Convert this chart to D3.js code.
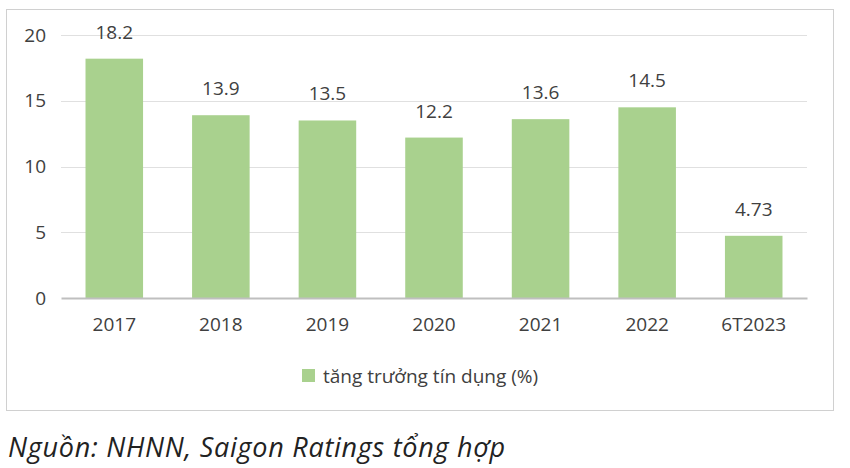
<!DOCTYPE html>
<html>
<head>
<meta charset="utf-8">
<script src="https://cdn.jsdelivr.net/npm/d3@7"></script>
<style>
  body { margin: 0; background: #fff; }
  text { font-family: "Open Sans", "Noto Sans", sans-serif; }
</style>
</head>
<body>
<script>
// chart data
var categories = ["2017", "2018", "2019", "2020", "2021", "2022", "6T2023"];
var values = [18.2, 13.9, 13.5, 12.2, 13.6, 14.5, 4.73];
var valueLabels = ["18.2", "13.9", "13.5", "12.2", "13.6", "14.5", "4.73"];
var yTicks = [0, 5, 10, 15, 20];
var seriesName = "tăng trưởng tín dụng (%)";
var source = "Nguồn: NHNN, Saigon Ratings tổng hợp";

var svgWidth = 850;
var svgHeight = 468;

// plot area inside the framed box
var margin = { top: 35, right: 43, bottom: 170, left: 61 };
var chartWidth = svgWidth - margin.left - margin.right;
var chartHeight = svgHeight - margin.top - margin.bottom;

var svg = d3.select("body")
  .append("svg")
  .attr("width", svgWidth)
  .attr("height", svgHeight);

// outer frame
svg.append("rect")
  .attr("x", 6.5)
  .attr("y", 9.5)
  .attr("width", 827)
  .attr("height", 401)
  .attr("fill", "#fff")
  .attr("stroke", "#d0d0d0")
  .attr("stroke-width", 1);

var chartGroup = svg.append("g")
  .attr("transform", `translate(${margin.left}, ${margin.top})`);

var xScale = d3.scaleBand()
  .domain(categories)
  .range([0, chartWidth])
  .paddingInner(0.46)
  .paddingOuter(0.23);

var yScale = d3.scaleLinear()
  .domain([0, 20])
  .range([chartHeight, 0]);

// gridlines
chartGroup.append("g")
  .selectAll("line")
  .data(yTicks.filter(d => d > 0))
  .enter()
  .append("line")
  .attr("x1", 0)
  .attr("x2", chartWidth)
  .attr("y1", d => Math.round(yScale(d)) + 0.5)
  .attr("y2", d => Math.round(yScale(d)) + 0.5)
  .attr("stroke", "#e0e0e0")
  .attr("stroke-width", 1);

// y axis labels
var leftAxis = d3.axisLeft(yScale).tickValues(yTicks).tickSize(0).tickPadding(15);
var yAxis = chartGroup.append("g").call(leftAxis);
yAxis.select(".domain").remove();
yAxis.selectAll("text")
  .attr("fill", "#404040")
  .style("font-size", "19px");

// bars
chartGroup.selectAll(".bar")
  .data(values)
  .enter()
  .append("rect")
  .attr("class", "bar")
  .attr("x", (d, i) => xScale(categories[i]))
  .attr("y", d => yScale(d))
  .attr("width", xScale.bandwidth())
  .attr("height", d => chartHeight - yScale(d))
  .attr("fill", "#a9d18e");

// value labels
chartGroup.selectAll(".val")
  .data(values)
  .enter()
  .append("text")
  .attr("class", "val")
  .attr("x", (d, i) => xScale(categories[i]) + xScale.bandwidth() / 2)
  .attr("y", d => yScale(d) - 20)
  .attr("text-anchor", "middle")
  .attr("fill", "#404040")
  .style("font-size", "19px")
  .text((d, i) => valueLabels[i]);

// x axis
var bottomAxis = d3.axisBottom(xScale).tickSize(0).tickPadding(20);
var xAxis = chartGroup.append("g")
  .attr("transform", `translate(0, ${chartHeight})`)
  .call(bottomAxis);
xAxis.select(".domain")
  .attr("stroke", "#bfbfbf")
  .attr("stroke-width", 2);
xAxis.selectAll("text")
  .attr("fill", "#404040")
  .style("font-size", "19px");

// legend
svg.append("rect")
  .attr("x", 302)
  .attr("y", 369)
  .attr("width", 13)
  .attr("height", 13)
  .attr("fill", "#a9d18e");
svg.append("text")
  .attr("x", 323)
  .attr("y", 383)
  .attr("fill", "#404040")
  .style("font-size", "19px")
  .text(seriesName);

// source note
svg.append("text")
  .attr("x", 8)
  .attr("y", 457)
  .attr("fill", "#222")
  .style("font-size", "27px")
  .style("font-style", "italic")
  .attr("textLength", 497)
  .attr("lengthAdjust", "spacing")
  .text(source);
</script>
</body>
</html>
